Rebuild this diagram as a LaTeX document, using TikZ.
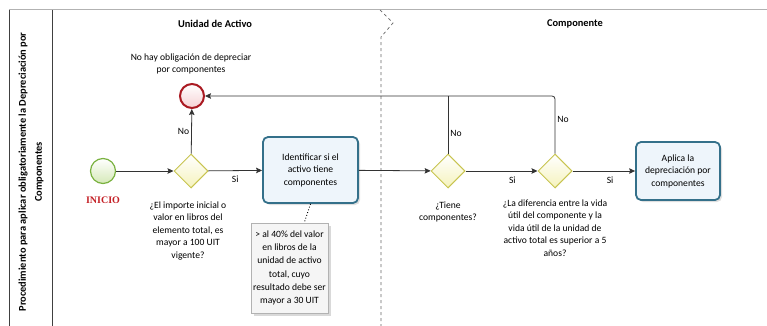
\documentclass[tikz,border=0pt]{standalone}
\usepackage{fontspec}
\setmainfont{Carlito}
\newfontfamily\inifont{Liberation Serif}
\usetikzlibrary{arrows.meta,shapes.geometric,shadows}

\definecolor{startline}{RGB}{122,178,64}
\definecolor{startfill}{RGB}{236,247,214}
\definecolor{endline}{RGB}{170,26,34}
\definecolor{endfill}{RGB}{246,210,212}
\definecolor{gateline}{RGB}{200,196,80}
\definecolor{gatefill}{RGB}{253,251,208}
\definecolor{taskline}{RGB}{52,112,138}
\definecolor{taskfill}{RGB}{238,245,251}
\definecolor{inired}{RGB}{196,32,38}

\begin{document}
\begin{tikzpicture}[x=1pt,y=-1pt,
  every node/.style={font=\fontsize{9.6}{12.5}\selectfont},
  startev/.style={circle,draw=startline,line width=1.2pt,inner sep=0pt,minimum size=25pt,top color=white,bottom color=startfill!80!startline},
  endev/.style={circle,draw=endline,line width=2pt,inner sep=0pt,minimum size=24pt,top color=white,bottom color=endfill},
  gate/.style={diamond,draw=gateline,line width=1pt,inner sep=0pt,minimum width=34pt,minimum height=34pt,top color=white,bottom color=gatefill!85!gateline},
  task/.style={draw=taskline,line width=1.8pt,rounded corners=5pt,align=center,inner sep=3pt,fill=taskfill,drop shadow={opacity=0.25,shadow xshift=2pt,shadow yshift=-2pt}},
  anno/.style={draw=gray!60,fill=gray!8,align=center,inner sep=2pt,minimum width=67pt,minimum height=90pt,font=\fontsize{9.6}{13.2}\selectfont,drop shadow={opacity=0.3,shadow xshift=3pt,shadow yshift=-3pt}},
  txt/.style={align=center,anchor=north},
  lane/.style={font=\fontsize{10.4}{16}\selectfont\bfseries},
  ar/.style={-{Stealth[length=6pt,width=5.5pt,inset=1pt]},line width=0.8pt,draw=black!80},
  ln/.style={line width=0.8pt,draw=black!80},
  lbl/.style={font=\fontsize{9.6}{11}\selectfont,inner sep=2pt}]
\useasboundingbox (0,0) rectangle (767,326);
% pool and lanes
\draw[gray!60,line width=1pt] (767,10) -- (9,10);
\draw[black!75,line width=0.8pt] (9,10) -- (9,326);
\draw[black!75,line width=0.8pt] (52,10) -- (52,326);
\draw[black!60,dashed,line width=0.7pt] (380,10) -- (393,23) -- (381,37) -- (381,326);
\node[lane,rotate=90,align=center] (pool) at (31,172) {Procedimiento para aplicar obligatoriamente la Depreciación por\\Componentes};
\node[lane] (la) at (215,24) {Unidad de Activo};
\node[lane] (lc) at (575,24) {Componente};
% events, gateways and tasks
\node[startev] (ini) at (103,171) {};
\node[font=\inifont\fontsize{10}{12}\selectfont\bfseries,text=inired] (initxt) at (103,200) {INICIO};
\node[gate] (g1) at (191,171) {};
\node[endev] (fin) at (192,96) {};
\node[align=center] (fintxt) at (191,64) {No hay obligación de depreciar\\por componentes};
\node[task,minimum width=95pt,minimum height=66pt] (t1) at (310.5,170) {Identificar si el\\activo tiene\\componentes};
\node[anno] (an) at (289.5,268) {> al 40\% del valor\\en libros de la\\unidad de activo\\total, cuyo\\resultado debe ser\\mayor a 30 UIT};
\node[gate] (g2) at (448,171) {};
\node[gate] (g3) at (555,171) {};
\node[task,minimum width=84pt,minimum height=58pt] (t2) at (678,171) {Aplica la\\depreciación por\\componentes};
% texts under the gateways
\node[txt] (g1txt) at (188,198) {¿El importe inicial o\\valor en libros del\\elemento total, es\\mayor a 100 UIT\\vigente?};
\node[txt] (g2txt) at (448,198) {¿Tiene\\componentes?};
\node[txt] (g3txt) at (555,196) {¿La diferencia entre la vida\\útil del componente y la\\vida útil de la unidad de\\activo total es superior a 5\\años?};
% flows
\draw[ar] (ini) -- (g1);
\draw[ar] (g1) -- node[lbl,below=3pt] {Si} (t1);
\draw[ar] (g1) -- node[lbl,left] {No} (fin);
\draw[ar] (t1) -- (g2);
\draw[ar] (g2) -- node[lbl,below=3pt,pos=0.65] {Si} (g3);
\draw[ar] (g3) -- node[lbl,below=3pt,pos=0.6] {Si} (t2);
\draw[ar,rounded corners=3pt] (g3.north) |- node[lbl,right,pos=0.3] {No} (fin.east);
\draw[ln] (g2.north) -- node[lbl,right,pos=0.35] {No} (g2.north |- fin.east);
\draw[dotted,line width=0.9pt] (t1.south) -- (an.72);
\end{tikzpicture}
\end{document}
